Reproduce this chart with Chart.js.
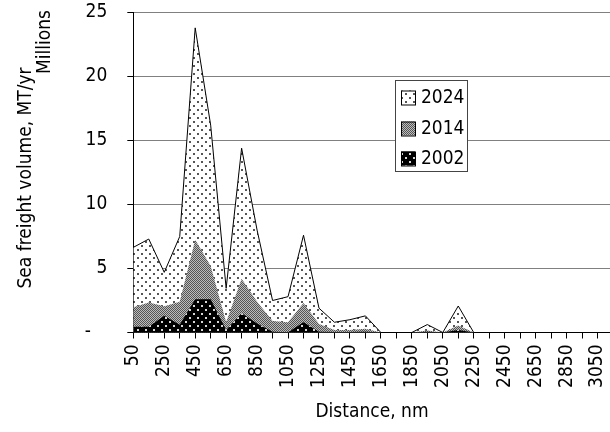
<!DOCTYPE html>
<html>
<head>
<meta charset="utf-8">
<script src="https://cdn.jsdelivr.net/npm/chart.js@4.4.1/dist/chart.umd.min.js"></script>
<style>
  html, body { margin: 0; padding: 0; background: #fff; overflow: hidden; }
  #wrap { position: relative; width: 610px; height: 432px; overflow: hidden; }
  canvas { display: block; }
</style>
</head>
<body>
<div id="wrap"><canvas id="c" width="640" height="432"></canvas></div>
<script>
// Distance bands, nautical miles
const categories = [50, 150, 250, 350, 450, 550, 650, 750, 850, 950, 1050, 1150, 1250, 1350, 1450, 1550,
                    1650, 1750, 1850, 1950, 2050, 2150, 2250, 2350, 2450, 2550, 2650, 2750, 2850, 2950, 3050, 3150];

// Sea freight volume per band, millions of tonnes per year
const vol2024 = [6.65, 7.3, 4.7, 7.5, 23.8, 16.2, 3.45, 14.4, 8.0, 2.5, 2.8, 7.6, 1.9, 0.8, 1.0, 1.3,
                 0, 0, 0, 0.62, 0, 2.07, 0, 0, 0, 0, 0, 0, 0, 0, 0, 0];
const vol2014 = [1.97, 2.35, 2.05, 2.41, 7.25, 5.2, 0.8, 4.2, 2.4, 0.9, 0.8, 2.3, 0.66, 0.2, 0.2, 0.3,
                 0, 0, 0, 0.15, 0, 0.55, 0, 0, 0, 0, 0, 0, 0, 0, 0, 0];
const vol2002 = [0.45, 0.45, 1.3, 0.6, 2.6, 2.6, 0.2, 1.5, 0.7, 0.05, 0.02, 0.8, 0.05, 0.03, 0.03, 0.05,
                 0, 0, 0, 0.05, 0, 0.2, 0, 0, 0, 0, 0, 0, 0, 0, 0, 0];

const yTicks = [0, 5, 10, 15, 20, 25];
const seriesNames = ['2024', '2014', '2002'];

const FONT = "'Liberation Sans Narrow', 'Arial Narrow', 'DejaVu Sans Condensed', sans-serif";
const FS = 19;

// Fill patterns
function makePattern(size, draw) {
  const cv = document.createElement('canvas');
  cv.width = size; cv.height = size;
  const g = cv.getContext('2d');
  draw(g);
  return document.getElementById('c').getContext('2d').createPattern(cv, 'repeat');
}
const patDots = makePattern(8, g => {
  g.fillStyle = '#fff'; g.fillRect(0, 0, 8, 8);
  g.fillStyle = '#555';
  g.fillRect(1, 1, 2, 2); g.fillRect(5, 5, 2, 2);
});
const patGray = makePattern(2, g => {
  g.fillStyle = '#bcbcbc'; g.fillRect(0, 0, 2, 2);
  g.fillStyle = '#555';
  g.fillRect(0, 0, 1, 1); g.fillRect(1, 1, 1, 1);
});
const patBlack = makePattern(8, g => {
  g.fillStyle = '#000'; g.fillRect(0, 0, 8, 8);
  g.fillStyle = '#d8d8d8';
  g.fillRect(1, 1, 2, 2); g.fillRect(5, 5, 2, 2);
});
const patterns = [patDots, patGray, patBlack];

// Legend box, axis titles and unit label
const decorations = {
  id: 'decorations',
  afterDraw(chart) {
    const ctx = chart.ctx;
    ctx.save();
    // legend
    const bx = 395.5, by = 80.5, bw = 72, bh = 91;
    ctx.fillStyle = '#fff';
    ctx.fillRect(bx, by, bw, bh);
    ctx.strokeStyle = '#444';
    ctx.lineWidth = 1;
    ctx.strokeRect(bx, by, bw, bh);
    const rows = [97.5, 128.5, 158.5];
    ctx.font = FS + 'px ' + FONT;
    ctx.textBaseline = 'middle';
    ctx.textAlign = 'left';
    seriesNames.forEach((name, i) => {
      const sy = rows[i];
      ctx.fillStyle = patterns[i];
      ctx.fillRect(401, sy - 7, 14, 14);
      ctx.strokeStyle = '#000';
      ctx.strokeRect(401.5, sy - 6.5, 14, 14);
      ctx.fillStyle = '#000';
      ctx.fillText(name, 421, sy + 1);
    });
    // axis titles
    ctx.fillStyle = '#000';
    ctx.textAlign = 'center';
    ctx.textBaseline = 'middle';
    ctx.fillText('Distance, nm', 372, 412);
    ctx.save();
    ctx.translate(26, 178);
    ctx.rotate(-Math.PI / 2);
    ctx.fillText('Sea freight volume, MT/yr', 0, 0);
    ctx.restore();
    ctx.save();
    ctx.translate(45, 42);
    ctx.rotate(-Math.PI / 2);
    ctx.fillText('Millions', 0, 0);
    ctx.restore();
    ctx.restore();
  }
};

const datasets = [vol2024, vol2014, vol2002].map((vals, i) => ({
  label: seriesNames[i],
  data: vals,
  fill: 'origin',
  backgroundColor: patterns[i],
  borderColor: i === 0 ? '#000' : 'rgba(0,0,0,0)',
  borderWidth: i === 0 ? 1 : 0,
  pointRadius: 0,
  tension: 0,
  order: 2 - i
}));

new Chart(document.getElementById('c'), {
  type: 'line',
  data: { labels: categories, datasets },
  options: {
    responsive: false,
    animation: false,
    events: [],
    layout: { padding: { left: 0, right: 27, top: 12.5, bottom: 0 } },
    plugins: { legend: { display: false }, tooltip: { enabled: false } },
    scales: {
      x: {
        type: 'category',
        offset: false,
        grid: { display: true, drawOnChartArea: false, drawTicks: true, tickLength: 6, tickColor: '#000' },
        border: { color: '#000', width: 1 },
        ticks: {
          autoSkip: false,
          maxRotation: 90, minRotation: 90,
          padding: 6,
          color: '#000',
          font: { family: FONT, size: FS },
          callback: (v, i) => (i % 2 === 0 && i < 31 ? String(categories[i]) : '')
        },
        afterFit: s => { s.height = 432 - 332.5; s.paddingLeft = 0; s.paddingRight = 0; }
      },
      y: {
        min: 0, max: 25,
        afterBuildTicks: s => { s.ticks = yTicks.map(v => ({ value: v })); },
        grid: { color: '#808080', lineWidth: 1, tickLength: 6, tickColor: '#000' },
        border: { color: '#000', width: 1 },
        ticks: {
          padding: 20,
          color: '#000',
          font: { family: FONT, size: FS },
          callback: v => (v === 0 ? '-   ' : String(v))
        },
        afterFit: s => { s.width = 133.3; s.paddingTop = 0; s.paddingBottom = 0; }
      }
    }
  },
  plugins: [decorations]
});
</script>
</body>
</html>
